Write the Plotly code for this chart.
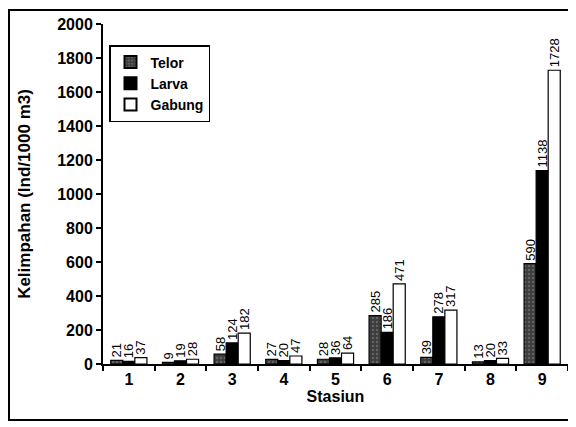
import plotly.graph_objects as go

stations = ["1", "2", "3", "4", "5", "6", "7", "8", "9"]
telor = [21, 9, 58, 27, 28, 285, 39, 13, 590]
larva = [16, 19, 124, 20, 36, 186, 278, 20, 1138]
gabung = [37, 28, 182, 47, 64, 471, 317, 33, 1728]

# page has an 8px body margin; figure fills the rest of the 576x427 window
W, H = 568, 419
L, R, T, B = 95, 8, 16, 63
pw, ph = W - L - R, H - T - B

font = dict(family="Liberation Sans, Arial", color="black")

def bar(name, vals, fill, pattern=None):
    return go.Bar(
        name=name, x=stations, y=vals,
        marker=dict(color=fill, line=dict(color="black", width=1.2),
                    pattern=pattern),
        text=[str(v) for v in vals], textposition="outside",
        textangle=-90, cliponaxis=False,
        textfont=dict(size=13, **font),
    )

fig = go.Figure([
    bar("Telor", telor, "#3c3c3c", dict(shape=".", fgcolor="#8a8a8a", size=4, solidity=0.3)),
    bar("Larva", larva, "black"),
    bar("Gabung", gabung, "white"),
])

def px_x(p):
    return (p - L) / pw

def px_y(p):
    return 1 - (p - T) / ph

fig.update_layout(
    width=W, height=H,
    margin=dict(l=L, r=R, t=T, b=B, autoexpand=False),
    paper_bgcolor="white", plot_bgcolor="white",
    barmode="group", bargap=0.3, bargroupgap=0.0,
    uniformtext=dict(minsize=12, mode="show"),
    showlegend=True,
    legend=dict(x=px_x(101), y=px_y(37), xanchor="left", yanchor="top",
                bordercolor="black", borderwidth=1.5, bgcolor="white",
                font=dict(size=14, **font), itemwidth=30, tracegroupgap=0,
                itemsizing="constant"),
    xaxis=dict(
        showline=True, linecolor="black", linewidth=2,
        ticks="outside", ticklen=5, tickwidth=1.5, tickcolor="black",
        tickson="boundaries",
        tickfont=dict(size=16, **font),
        tickprefix="<b>", ticksuffix="</b>",
        title=dict(text="<b>Stasiun</b>", font=dict(size=16, **font), standoff=2),
    ),
    yaxis=dict(
        range=[0, 2000], dtick=200,
        showline=True, linecolor="black", linewidth=2,
        ticks="outside", ticklen=5, tickwidth=1.5, tickcolor="black",
        showgrid=False, zeroline=False,
        tickfont=dict(size=16, **font),
        tickprefix="<b>", ticksuffix="</b>",
        title=dict(text="<b>Kelimpahan (Ind/1000 m3)</b>", font=dict(size=17, **font), standoff=22),
    ),
    shapes=[dict(type="rect", xref="paper", yref="paper",
                 x0=px_x(1), x1=px_x(565), y0=px_y(412), y1=px_y(2),
                 line=dict(color="black", width=2))],
)
fig.for_each_trace(lambda t: t.update(name=f"<b>{t.name}</b>"))

fig.write_html("out.html")
